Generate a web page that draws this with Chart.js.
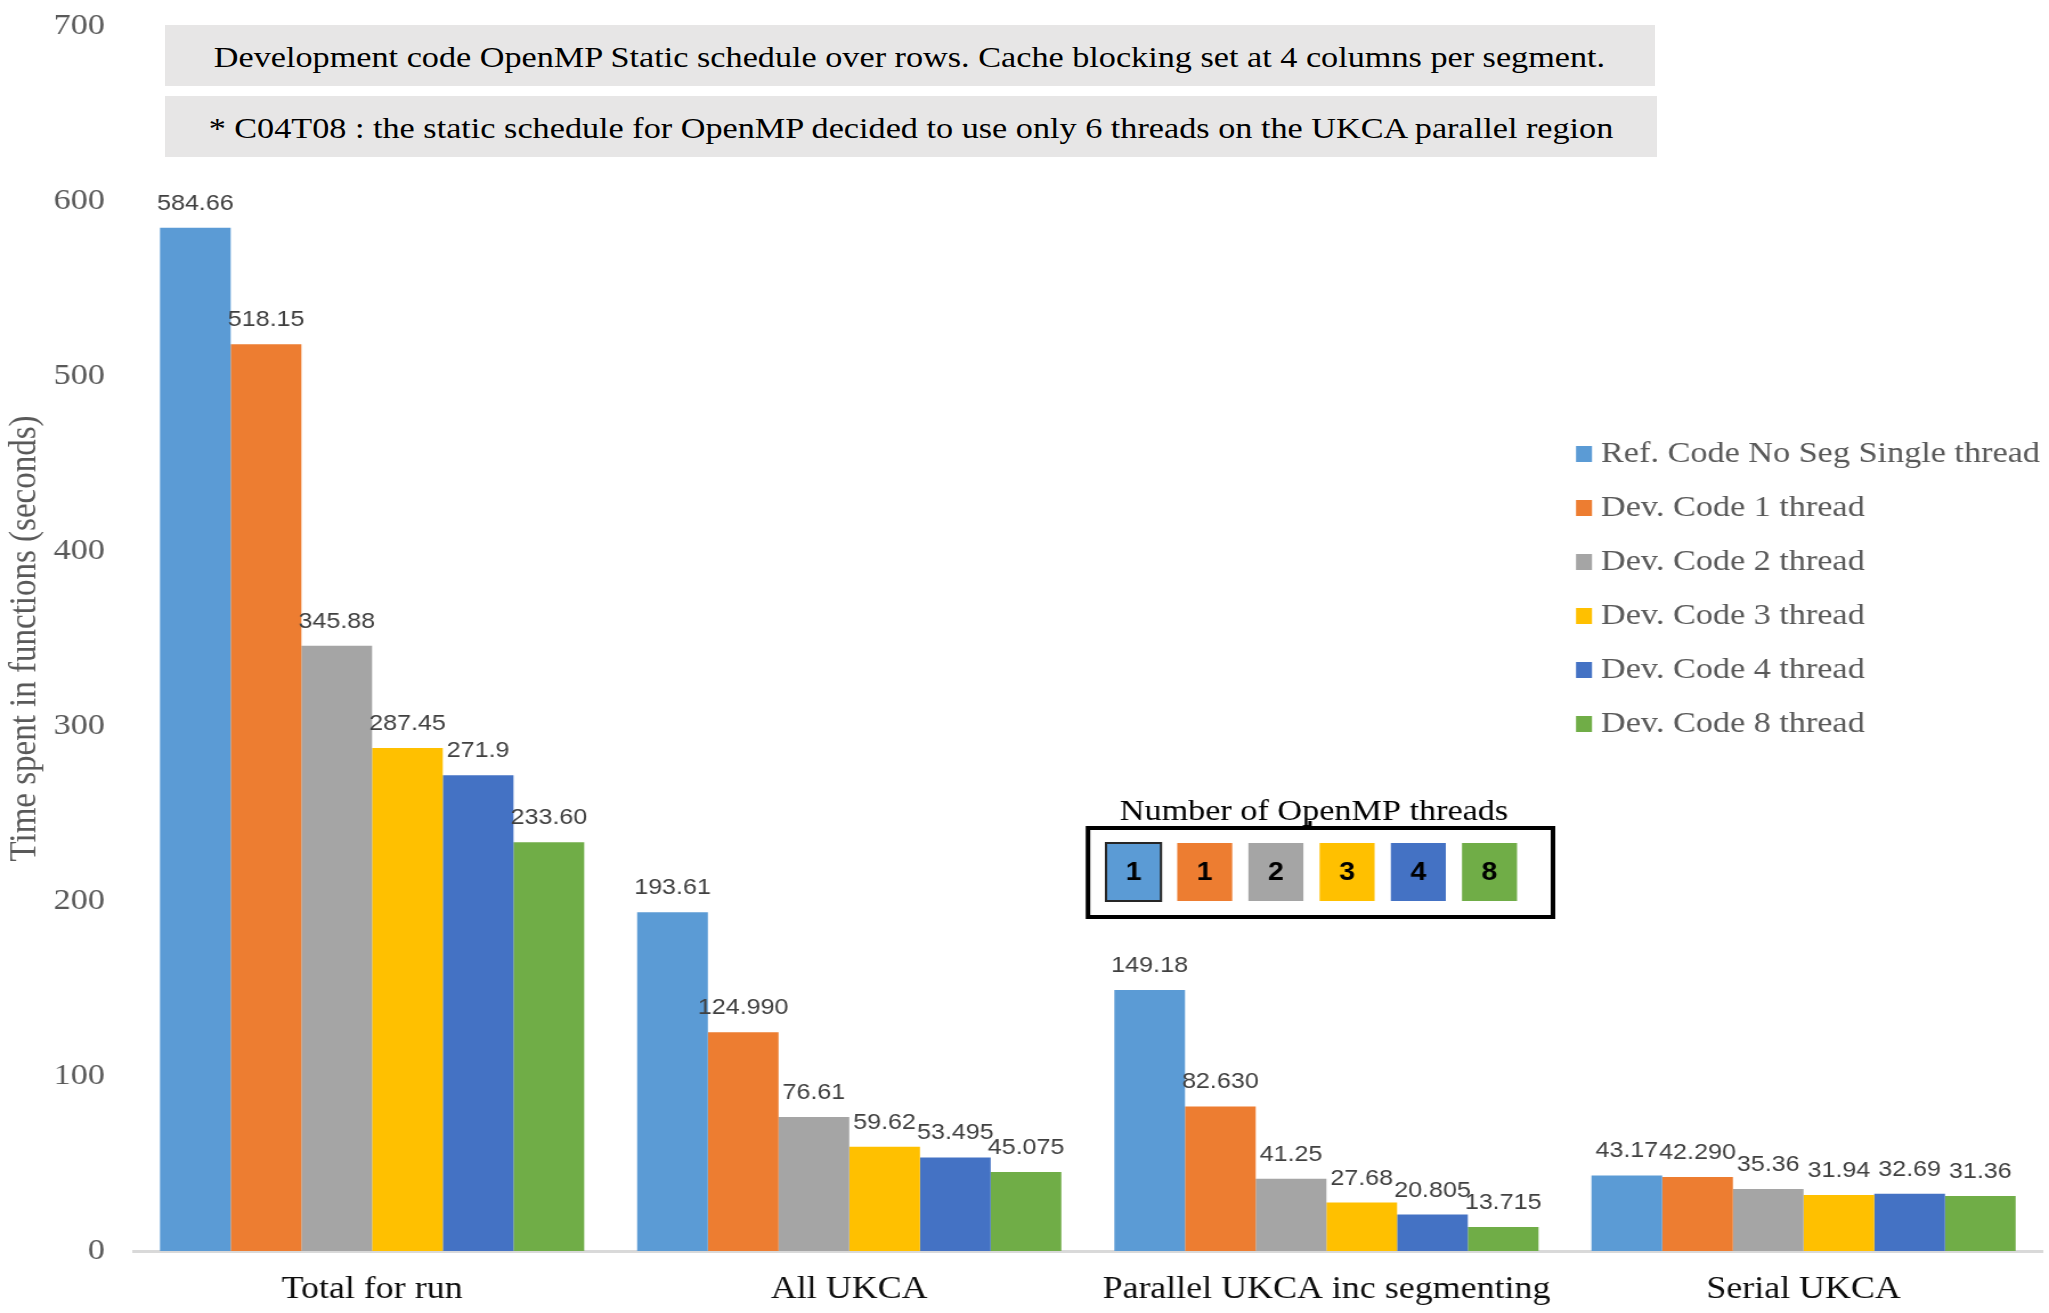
<!DOCTYPE html>
<html>
<head>
<meta charset="utf-8">
<script src="https://cdn.jsdelivr.net/npm/chart.js@4/dist/chart.umd.min.js"></script>
<style>
  html, body { margin: 0; padding: 0; background: #ffffff; overflow: hidden; }
  /* the drawing is laid out on a narrower canvas and widened to the page */
  #wrap { position: absolute; left: 0; top: 0; width: 1797px; height: 1313px;
          transform: scaleX(1.14023); transform-origin: 0 0; }
  #c { position: absolute; left: 0; top: 0; }
  .note { position: absolute; background: #E7E6E6; color: #000000;
          font-family: 'Liberation Serif', 'Times New Roman', serif; font-size: 30px;
          text-align: center; white-space: nowrap; box-sizing: border-box; }
</style>
</head>
<body>
<div id="wrap">
  <canvas id="c" width="1797" height="1313"></canvas>
</div>
<script>
// ---- data ----
const categories = ['Total for run', 'All UKCA', 'Parallel UKCA inc segmenting', 'Serial UKCA'];
const seriesNames = [
  'Ref. Code No Seg Single thread',
  'Dev. Code 1 thread',
  'Dev. Code 2 thread',
  'Dev. Code 3 thread',
  'Dev. Code 4 thread',
  'Dev. Code 8 thread'
];
const threadCounts = ['1', '1', '2', '3', '4', '8'];
// timings in seconds, kept as printed on the labels
const refSingle = ['584.66', '193.61', '149.18', '43.17'];
const dev1      = ['518.15', '124.990', '82.630', '42.290'];
const dev2      = ['345.88', '76.61', '41.25', '35.36'];
const dev3      = ['287.45', '59.62', '27.68', '31.94'];
const dev4      = ['271.9', '53.495', '20.805', '32.69'];
const dev8      = ['233.60', '45.075', '13.715', '31.36'];
const yTicks = [0, 100, 200, 300, 400, 500, 600, 700];
const noteLines = [
  'Development code OpenMP Static schedule over rows. Cache blocking set at 4 columns per segment.',
  '* C04T08 : the static schedule for OpenMP decided to use only 6 threads on the UKCA parallel region'
];
const yTitle = 'Time spent in functions (seconds)';
const threadsTitle = 'Number of OpenMP threads';

// ---- styling ----
const palette = ['#5B9BD5', '#ED7D31', '#A5A5A5', '#FFC000', '#4472C4', '#70AD47'];
const SERIF = "'Liberation Serif', 'Times New Roman', serif";
const SANS = "'Liberation Sans', Arial, sans-serif";
const K = 1.14023;                 // horizontal widening of the wrapper
const px = v => v / K;             // page x -> canvas x

const seriesText = [refSingle, dev1, dev2, dev3, dev4, dev8];

// grey note banners above the plot
const wrap = document.getElementById('wrap');
[
  { x: 165, r: 1654, y: 25, h: 61 },
  { x: 165, r: 1657, y: 96, h: 61 }
].forEach((b, i) => {
  const d = document.createElement('div');
  d.className = 'note';
  d.style.left = px(b.x) + 'px';
  d.style.width = (px(b.r) - px(b.x)) + 'px';
  d.style.top = b.y + 'px';
  d.style.height = b.h + 'px';
  d.style.lineHeight = (b.h - 2) + 'px';
  d.style.paddingTop = '2px';
  d.textContent = noteLines[i];
  wrap.appendChild(d);
});

// value labels above every bar
const valueLabels = {
  id: 'valueLabels',
  afterDatasetsDraw(chart) {
    const ctx = chart.ctx;
    ctx.save();
    ctx.font = 'normal 22px ' + SANS;
    ctx.fillStyle = '#404040';
    ctx.textAlign = 'center';
    ctx.textBaseline = 'alphabetic';
    chart.data.datasets.forEach((ds, i) => {
      const meta = chart.getDatasetMeta(i);
      meta.data.forEach((bar, j) => {
        ctx.fillText(ds.labelText[j], bar.x, bar.y - 18);
      });
    });
    ctx.restore();
  }
};

// series legend and thread-count key
const annotations = {
  id: 'annotations',
  afterDraw(chart) {
    const ctx = chart.ctx;
    ctx.save();

    // series legend
    ctx.font = 'normal 30px ' + SERIF;
    ctx.textAlign = 'left';
    ctx.textBaseline = 'alphabetic';
    chart.data.datasets.forEach((ds, i) => {
      const base = 462 + i * 54;
      ctx.fillStyle = ds.backgroundColor;
      ctx.fillRect(px(1576), base - 16, px(1592) - px(1576), 16);
      ctx.fillStyle = '#595959';
      ctx.fillText(ds.label, px(1601), base);
    });

    // thread-count key
    ctx.fillStyle = '#000000';
    ctx.textAlign = 'center';
    ctx.fillText(threadsTitle, px(1314), 820);
    ctx.lineWidth = 3;
    ctx.strokeStyle = '#000000';
    ctx.beginPath();
    ctx.moveTo(px(1310), 821);
    ctx.lineTo(px(1310), 828);
    ctx.stroke();
    ctx.lineWidth = 4;
    ctx.strokeRect(px(1088), 828, px(1553) - px(1088), 89);
    ctx.font = 'bold 25px ' + SANS;
    ctx.textBaseline = 'middle';
    chart.data.datasets.forEach((ds, i) => {
      const left = px(1106 + i * 71.2);
      const w = px(55);
      ctx.fillStyle = ds.backgroundColor;
      ctx.fillRect(left, 843, w, 58);
      if (i === 0) {
        ctx.lineWidth = 2;
        ctx.strokeStyle = '#262626';
        ctx.strokeRect(left, 843, w, 58);
      }
      ctx.fillStyle = '#000000';
      ctx.fillText(threadCounts[i], left + w / 2, 873);
    });
    ctx.restore();
  }
};

const chart = new Chart(document.getElementById('c'), {
  type: 'bar',
  data: {
    labels: categories,
    datasets: seriesNames.map((name, i) => ({
      label: name,
      data: seriesText[i].map(Number),
      labelText: seriesText[i],
      backgroundColor: palette[i],
      borderWidth: 0,
      barPercentage: 1.0,
      categoryPercentage: 0.889
    }))
  },
  options: {
    responsive: false,
    animation: false,
    devicePixelRatio: 1,
    layout: { padding: { top: 26, right: 6, bottom: 0, left: 0 } },
    plugins: { legend: { display: false }, tooltip: { enabled: false } },
    scales: {
      x: {
        grid: { display: false, drawTicks: false },
        border: { display: true, color: '#D9D9D9', width: 3 },
        ticks: { color: '#0d0d0d', font: { family: SERIF, size: 31.5 }, padding: 20, maxRotation: 0, autoSkip: false },
        afterFit(scale) { scale.height = 62; }
      },
      y: {
        min: yTicks[0],
        max: yTicks[yTicks.length - 1],
        afterBuildTicks(scale) { scale.ticks = yTicks.map(v => ({ value: v })); },
        grid: { display: false, drawTicks: false },
        border: { display: false },
        ticks: { color: '#595959', font: { family: SERIF, size: 30 }, padding: 25 },
        title: { display: true, text: yTitle, color: '#595959', font: { family: SERIF, size: 33 }, padding: { top: 3, bottom: 0 } },
        afterFit(scale) {
          scale.width = px(133.5);
          scale.paddingTop = 0;
          scale.paddingBottom = 0;
        }
      }
    }
  },
  plugins: [valueLabels, annotations]
});

// redraw once the local fonts are ready so canvas text uses them
if (document.fonts && document.fonts.ready) {
  document.fonts.ready.then(() => chart.draw());
}
</script>
</body>
</html>
